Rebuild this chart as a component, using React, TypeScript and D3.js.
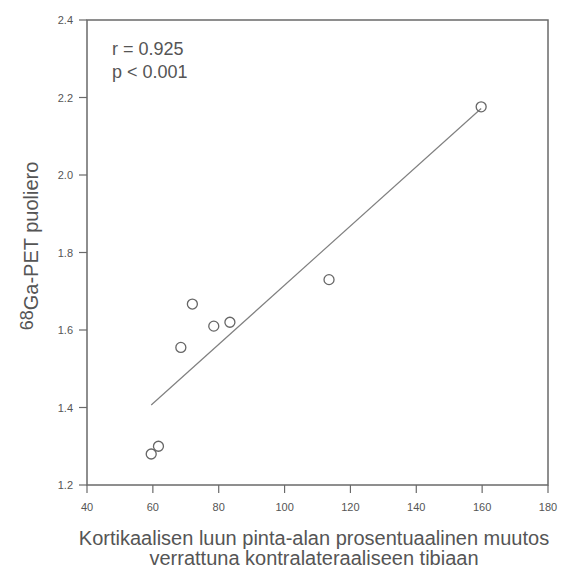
import React from 'react';
import * as d3 from 'd3';

// muutos (%) vs puoliero
const xValues = [59.5, 61.7, 68.5, 72.0, 78.5, 83.4, 113.5, 159.7];
const yValues = [1.28, 1.30, 1.555, 1.667, 1.61, 1.62, 1.73, 2.176];
const xTicks = [40, 60, 80, 100, 120, 140, 160, 180];
const yTicks = [1.2, 1.4, 1.6, 1.8, 2.0, 2.2, 2.4];
const statLines = ['r = 0.925', 'p < 0.001'];

const width = 563;
const height = 570;
const margin = { left: 87, right: 15, top: 20, bottom: 85 };
const grey = '#6a6a6a';
const font = 'Arial, "Liberation Sans", sans-serif';

export default function App() {
  const x = d3.scaleLinear().domain([40, 180]).range([margin.left, width - margin.right]);
  const y = d3.scaleLinear().domain([1.2, 2.4]).range([height - margin.bottom, margin.top]);

  // least squares fit
  const mx = d3.mean(xValues) as number;
  const my = d3.mean(yValues) as number;
  const sxy = d3.sum(xValues, (v, i) => (v - mx) * (yValues[i] - my));
  const sxx = d3.sum(xValues, (v) => (v - mx) * (v - mx));
  const b = sxy / sxx;
  const a = my - b * mx;
  const [x0, x1] = d3.extent(xValues) as [number, number];
  const fit = d3.line<number>().x((v) => x(v)).y((v) => y(a + b * v))([x0, x1]);

  const x2 = width - margin.right;
  const yb = height - margin.bottom;

  return (
    <svg width={width} height={height} style={{ position: 'absolute', left: 0, top: 0, background: '#fff' }}>
      <rect x={margin.left} y={margin.top} width={x2 - margin.left} height={yb - margin.top}
        fill="none" stroke={grey} strokeWidth={1.5} />
      {xTicks.map((t) => (
        <g key={'x' + t}>
          <line x1={x(t)} x2={x(t)} y1={yb} y2={yb + 8} stroke={grey} strokeWidth={1.2} />
          <text x={x(t)} y={yb + 26} textAnchor="middle" fontFamily={font} fontSize={11} fill="#555">{t}</text>
        </g>
      ))}
      {yTicks.map((t) => (
        <g key={'y' + t}>
          <line x1={margin.left - 8} x2={margin.left} y1={y(t)} y2={y(t)} stroke={grey} strokeWidth={1.2} />
          <text x={margin.left - 14} y={y(t) + 4} textAnchor="end" fontFamily={font} fontSize={11} fill="#555">{t.toFixed(1)}</text>
        </g>
      ))}
      <path d={fit ?? ''} fill="none" stroke="#808080" strokeWidth={1.2} />
      {xValues.map((v, i) => (
        <circle key={i} cx={x(v)} cy={y(yValues[i])} r={5} fill="none" stroke="#666" strokeWidth={1.3} />
      ))}
      {statLines.map((s, i) => (
        <text key={s} x={112} y={55 + i * 23} fontFamily={font} fontSize={18} fill="#555">{s}</text>
      ))}
      <text x={314} y={545} textAnchor="middle" fontFamily={font} fontSize={20} fill="#555">
        Kortikaalisen luun pinta-alan prosentuaalinen muutos
      </text>
      <text x={314} y={565} textAnchor="middle" fontFamily={font} fontSize={20} fill="#555">
        verrattuna kontralateraaliseen tibiaan
      </text>
      <text transform={`translate(38, 246) rotate(-90)`} textAnchor="middle"
        fontFamily={font} fontSize={20} fill="#555">
        <tspan fontSize={18} dy={-5}>68</tspan>
        <tspan dy={5}>Ga-PET puoliero</tspan>
      </text>
    </svg>
  );
}
